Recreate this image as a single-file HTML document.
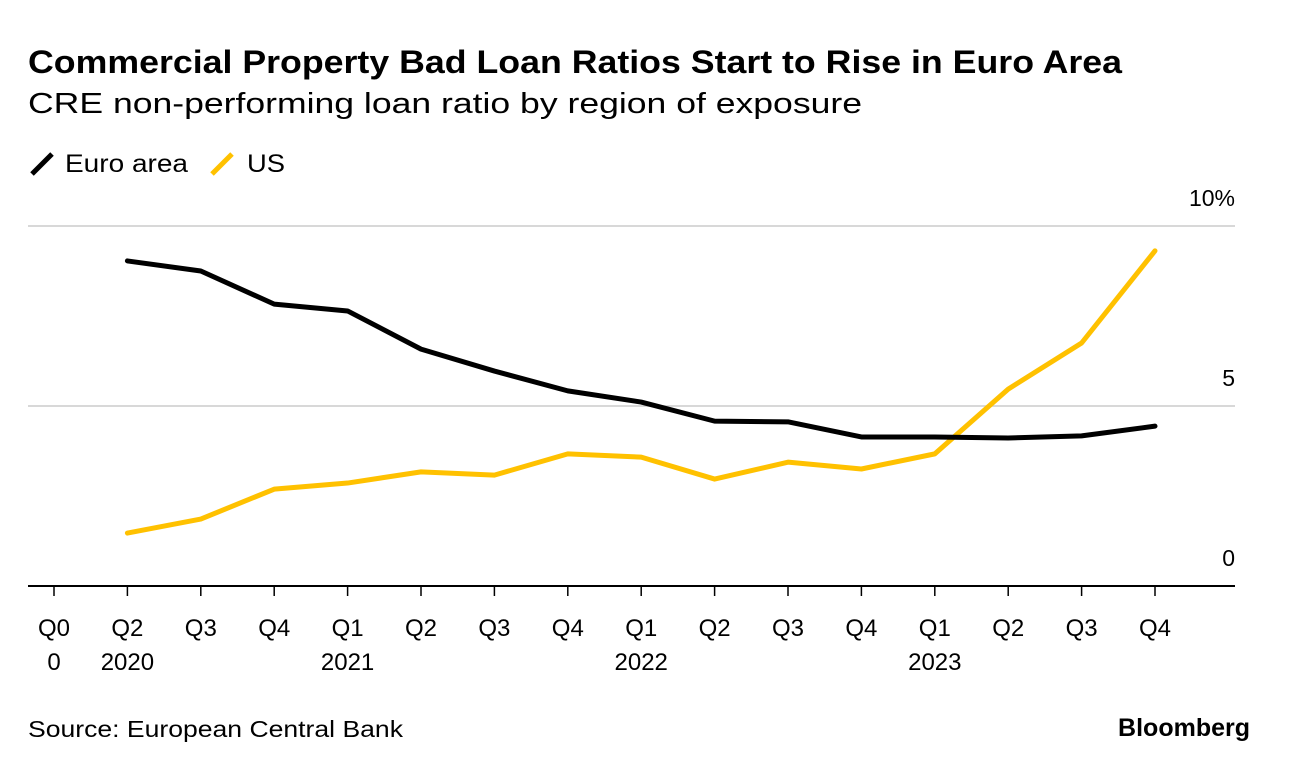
<!DOCTYPE html>
<html><head><meta charset="utf-8"><style>
body{margin:0;background:#fff;font-family:"Liberation Sans",Arial,sans-serif;}
#wrap{position:relative;width:1289px;height:770px;overflow:hidden;}
</style></head><body>
<div id="wrap">
<svg id="chart" width="1289" height="770">
<text x="28" y="73" font-size="32" font-weight="bold" fill="#000" textLength="1094" lengthAdjust="spacingAndGlyphs">Commercial Property Bad Loan Ratios Start to Rise in Euro Area</text>
<text x="28" y="113" font-size="29" fill="#000" textLength="834" lengthAdjust="spacingAndGlyphs">CRE non-performing loan ratio by region of exposure</text>
<g><line x1="32" y1="174" x2="52" y2="154" stroke="#000" stroke-width="5"/><text x="65" y="172" font-size="25" textLength="123" lengthAdjust="spacingAndGlyphs">Euro area</text></g>
<g><line x1="212" y1="174" x2="232" y2="154" stroke="#ffc100" stroke-width="5"/><text x="247" y="172" font-size="25" textLength="38" lengthAdjust="spacingAndGlyphs">US</text></g>
<g id="grid"></g><g id="xaxis"></g><g id="series"></g>
<text x="28" y="737" font-size="23" textLength="375" lengthAdjust="spacingAndGlyphs">Source: European Central Bank</text>
<text x="1250" y="736" font-size="25" font-weight="bold" text-anchor="end">Bloomberg</text>
</svg></div>
<script>
const quarters=["Q0","Q2","Q3","Q4","Q1","Q2","Q3","Q4","Q1","Q2","Q3","Q4","Q1","Q2","Q3","Q4"];
const years=["0","2020","","","2021","","","","2022","","","","2023","","",""];
const euroArea=[null,9.03,8.75,7.83,7.64,6.58,5.97,5.42,5.11,4.58,4.56,4.14,4.14,4.11,4.17,4.44];
const us=[null,1.47,1.86,2.69,2.86,3.17,3.08,3.67,3.58,2.97,3.44,3.25,3.67,5.47,6.75,9.31];
const yTicks=[0,5,10];
const yTickLabels=["0","5","10%"];
const NS="http://www.w3.org/2000/svg";
const x=i=>54+i*73.4;
const y=v=>586-v*36;
function mk(t,a,p){const e=document.createElementNS(NS,t);for(const k in a)e.setAttribute(k,a[k]);p.appendChild(e);return e;}
const grid=document.getElementById('grid'),xa=document.getElementById('xaxis'),se=document.getElementById('series');
yTicks.forEach((v,i)=>{
 const l=mk('line',{x1:28,x2:1235,y1:y(v),y2:y(v),stroke:v===0?'#000':'#ccc','stroke-width':v===0?2:1.5},grid);
 
 
 const t=mk('text',{x:1235,y:y(v)-20,'font-size':23,'text-anchor':'end'},grid);t.textContent=yTickLabels[i];
 
 
});
quarters.forEach((q,i)=>{
 const tk=mk('line',{x1:x(i),x2:x(i),y1:586,y2:596,stroke:'#000','stroke-width':1.5},xa);
 
 
 const t=mk('text',{x:x(i),y:636,'font-size':24,'text-anchor':'middle'},xa);t.textContent=q;
 
 
 if(years[i]){const t2=mk('text',{x:x(i),y:670,'font-size':24,'text-anchor':'middle'},xa);t2.textContent=years[i];
 
 }
});
function line(d,c,n){const pts=[];d.forEach((v,i)=>{if(v!=null)pts.push(x(i)+','+y(v));});
 const p=mk('polyline',{points:pts.join(' '),fill:'none',stroke:c,'stroke-width':5,'stroke-linejoin':'round','stroke-linecap':'round'},se);
 
 }
line(us,'#ffc100','us-line');
line(euroArea,'#000','euro-area-line');
</script></body></html>
